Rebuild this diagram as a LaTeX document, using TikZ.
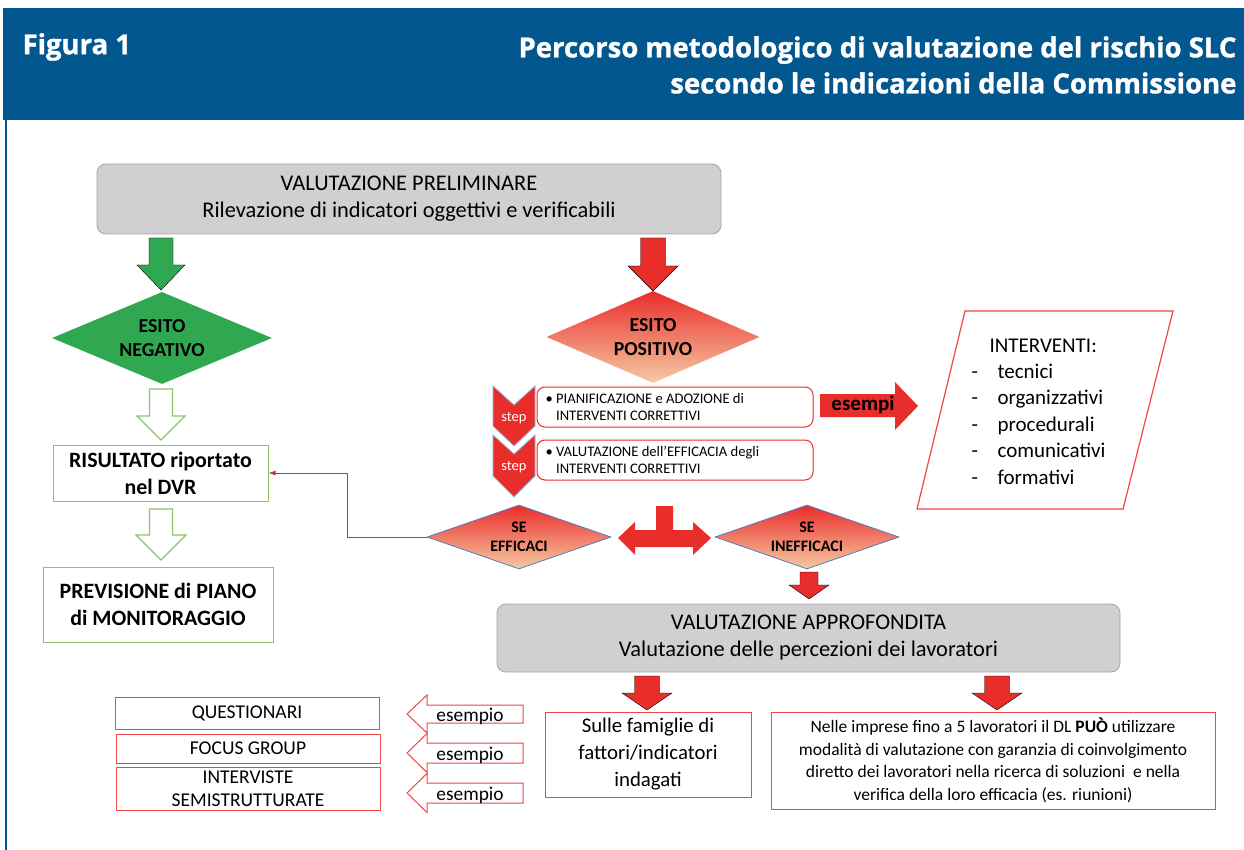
\documentclass[tikz,border=0pt]{standalone}
\usepackage{fontspec}
\setmainfont{Carlito}
\newfontfamily\hdrfont[FakeStretch=1.0,FakeBold=1.2]{Open Sans}
\usetikzlibrary{shapes.geometric,arrows.meta}
\definecolor{hblue}{RGB}{3,87,143}
\definecolor{gred}{RGB}{233,45,42}
\definecolor{peach}{RGB}{246,202,164}
\definecolor{ggreen}{RGB}{48,168,82}
\definecolor{lgreen}{RGB}{140,195,110}
\definecolor{boxgray}{RGB}{208,208,210}
\definecolor{bordgray}{RGB}{165,165,168}
\definecolor{sblue}{RGB}{79,129,189}
\definecolor{chevblue}{RGB}{150,180,220}
\definecolor{lred}{RGB}{240,70,70}
\definecolor{dred}{RGB}{192,55,55}
\newcommand\DArr[7]{\draw[#7] (#1-#5,#2) -- (#1+#5,#2) -- (#1+#5,#3) -- (#1+#6,#3) -- (#1,#4) -- (#1-#6,#3) -- (#1-#5,#3) -- cycle;}
\newcommand\LArr[7]{\draw[#7] (#1,#2) -- (#3,#2-#6) -- (#3,#2-#5) -- (#4,#2-#5) -- (#4,#2+#5) -- (#3,#2+#5) -- (#3,#2+#6) -- cycle;}
\tikzset{
  graybox/.style={draw=bordgray, line width=0.8pt, fill=boxgray, rounded corners=9pt, align=center, inner sep=0pt, font=\fontsize{22.4}{27}\selectfont},
  greenbox/.style={draw=lgreen, line width=1pt, fill=white, align=center, inner sep=0pt, font=\bfseries\fontsize{21.9}{27}\selectfont},
  redbox/.style={draw=lred, line width=1pt, fill=white, align=center, inner sep=0pt},
  stepbox/.style={draw=gred, line width=1pt, fill=white, rounded corners=8pt, inner sep=0pt},
  diam/.style={diamond, inner sep=0pt, align=center, font=\bfseries\fontsize{19.8}{24}\selectfont},
  sediam/.style={diamond, inner sep=0pt, align=center, draw=sblue, line width=0.8pt, top color=gred, bottom color=peach, font=\bfseries\fontsize{16}{19}\selectfont, aspect=2.875, minimum width=184pt, minimum height=64pt},
  chev/.style={fill=gred, draw=chevblue, line width=0.8pt},
  steptxt/.style={text=white, font=\fontsize{14.5}{16}\selectfont},
  hdr/.style={text=white, font=\hdrfont\bfseries\fontsize{27.5}{36}\selectfont},
  conn/.style={dred, line width=0.8pt, -{Latex[length=7pt,width=5pt]}}
}
\begin{document}
\begin{tikzpicture}[x=1pt,y=-1pt]
\useasboundingbox (0,0) rectangle (1244,850);
\fill[white] (0,0) rectangle (1244,850);
% header
\fill[hblue] (3,8) rectangle (1244,120);
\draw[hblue, line width=2.5pt] (6,120) -- (6,850);
\node[hdr, anchor=west] (fig) at (19,47) {Figura 1};
\node[hdr, anchor=east, align=right] (title) at (1240,65) {Percorso metodologico di valutazione del rischio SLC\\secondo le indicazioni della Commissione};

% top box
\node[graybox, minimum width=624pt, minimum height=70pt] (prelim) at (409,199) {VALUTAZIONE PRELIMINARE\\Rilevazione di indicatori oggettivi e verificabili};

% left branch
\DArr{161}{238}{265}{290}{12}{24}{fill=ggreen}
\node[diam, fill=ggreen, aspect=2.39, minimum width=220pt, minimum height=92pt] (neg) at (162,338) {ESITO\\NEGATIVO};
\DArr{161}{389}{416}{440}{11.5}{24}{draw=lgreen, fill=white, line width=1.2pt}
\node[greenbox, minimum width=215pt, minimum height=56pt] (risultato) at (160.5,473) {RISULTATO riportato\\nel DVR};
\DArr{161}{509}{535}{560}{11.5}{25}{draw=lgreen, fill=white, line width=1.2pt}
\node[greenbox, minimum width=230pt, minimum height=75pt] (previsione) at (158,604.5) {PREVISIONE di PIANO\\di MONITORAGGIO};

% right branch
\DArr{653}{238}{266}{291}{12.5}{25}{fill=gred}
\node[diam, top color=gred, bottom color=peach, aspect=2.32, minimum width=213pt, minimum height=92pt] (pos) at (653,337) {ESITO\\POSITIVO};

% steps
\draw[chev] (493,386) -- (514,405) -- (535,386) -- (535,426) -- (514,446) -- (493,426) -- cycle;
\node[steptxt] (step1) at (514,418) {step};
\draw[chev] (493,435) -- (514,454) -- (535,435) -- (535,476) -- (514,497) -- (493,476) -- cycle;
\node[steptxt] (step2) at (514,467) {step};
\node[stepbox, minimum width=276pt, minimum height=40pt] (box1) at (675,407) {};
\node[anchor=west, align=left, font=\fontsize{14.6}{16.5}\selectfont] (t1) at (542,407) {\textbullet\ PIANIFICAZIONE e ADOZIONE di\\\hphantom{\textbullet\ }INTERVENTI CORRETTIVI};
\node[stepbox, minimum width=276pt, minimum height=40pt] (box2) at (675,460) {};
\node[anchor=west, align=left, font=\fontsize{14.6}{16.5}\selectfont] (t2) at (542,460) {\textbullet\ VALUTAZIONE dell’EFFICACIA degli\\\hphantom{\textbullet\ }INTERVENTI CORRETTIVI};

% esempi arrow
\draw[fill=gred, draw=none] (820,394) -- (895,394) -- (895,382) -- (918,406) -- (895,430) -- (895,417) -- (820,417) -- cycle;
\node[font=\bfseries\fontsize{21}{24}\selectfont] (esempi) at (863,405) {esempi};

% interventi
\draw[lred, line width=1.2pt, fill=white] (965,311) -- (1173,311) -- (1123,509) -- (917,509) -- cycle;
\node[anchor=base west, font=\fontsize{21}{26}\selectfont] (intv) at (986,352) {INTERVENTI:};
\foreach \t [count=\i] in {tecnici,organizzativi,procedurali,comunicativi,formativi} {
  \node[anchor=base west, font=\fontsize{21}{26}\selectfont] (dash\i) at (968,352+26.4*\i) {-};
  \node[anchor=base west, font=\fontsize{21}{26}\selectfont] (item\i) at (994,352+26.4*\i) {\t};
}

% SE diamonds
\node[sediam] (seeff) at (519,537) {SE\\EFFICACI};
\node[sediam] (seineff) at (807,537) {SE\\INEFFICACI};
\draw[fill=gred, draw=none] (618,538) -- (635,522) -- (635,530) -- (656,530) -- (656,506) -- (673,506) -- (673,530) -- (693,530) -- (693,522) -- (711,538) -- (693,555) -- (693,547) -- (635,547) -- (635,555) -- cycle;
\DArr{809}{572}{585}{599}{9}{20}{fill=gred}
\draw[conn] (seeff.west) -- ++(-79,0) |- (risultato.east);

% approfondita
\node[graybox, minimum width=623pt, minimum height=68pt] (approf) at (808.5,638) {VALUTAZIONE APPROFONDITA\\Valutazione delle percezioni dei lavoratori};
\DArr{647}{676}{693}{710}{12.5}{25}{fill=gred}
\DArr{997}{676}{693}{710}{12.5}{25}{fill=gred}
\node[redbox, minimum width=206pt, minimum height=85pt, font=\fontsize{20.8}{27}\selectfont] (sulle) at (648,754.5) {Sulle famiglie di\\fattori/indicatori\\indagati};
\node[redbox, minimum width=444pt, minimum height=97pt, font=\fontsize{17.5}{22.5}\selectfont] (imprese) at (993,760.5) {Nelle imprese fino a 5 lavoratori il DL \textbf{PUÒ} utilizzare\\modalità di valutazione con garanzia di coinvolgimento\\diretto dei lavoratori nella ricerca di soluzioni\ \ e nella\\verifica della loro efficacia (es. riunioni)};

% methods
\node[redbox, minimum width=264pt, minimum height=32pt, font=\fontsize{19.5}{22}\selectfont] (quest) at (247,713) {QUESTIONARI};
\node[redbox, minimum width=264pt, minimum height=29pt, font=\fontsize{19.5}{22}\selectfont] (focus) at (248,748.5) {FOCUS GROUP};
\node[redbox, minimum width=264pt, minimum height=43pt, font=\fontsize{19.5}{23}\selectfont] (interv) at (248,788.5) {INTERVISTE\\SEMISTRUTTURATE};
\LArr{407}{714}{427}{523}{9}{19}{draw=lred, fill=white, line width=1pt}
\node[font=\fontsize{19.4}{22}\selectfont] (es1) at (470,716) {esempio};
\LArr{407}{753}{427}{523}{10}{19.5}{draw=lred, fill=white, line width=1pt}
\node[font=\fontsize{19.4}{22}\selectfont] (es2) at (470,755) {esempio};
\LArr{407}{793}{427}{523}{10}{19.5}{draw=lred, fill=white, line width=1pt}
\node[font=\fontsize{19.4}{22}\selectfont] (es3) at (470,795) {esempio};
\end{tikzpicture}
\end{document}
